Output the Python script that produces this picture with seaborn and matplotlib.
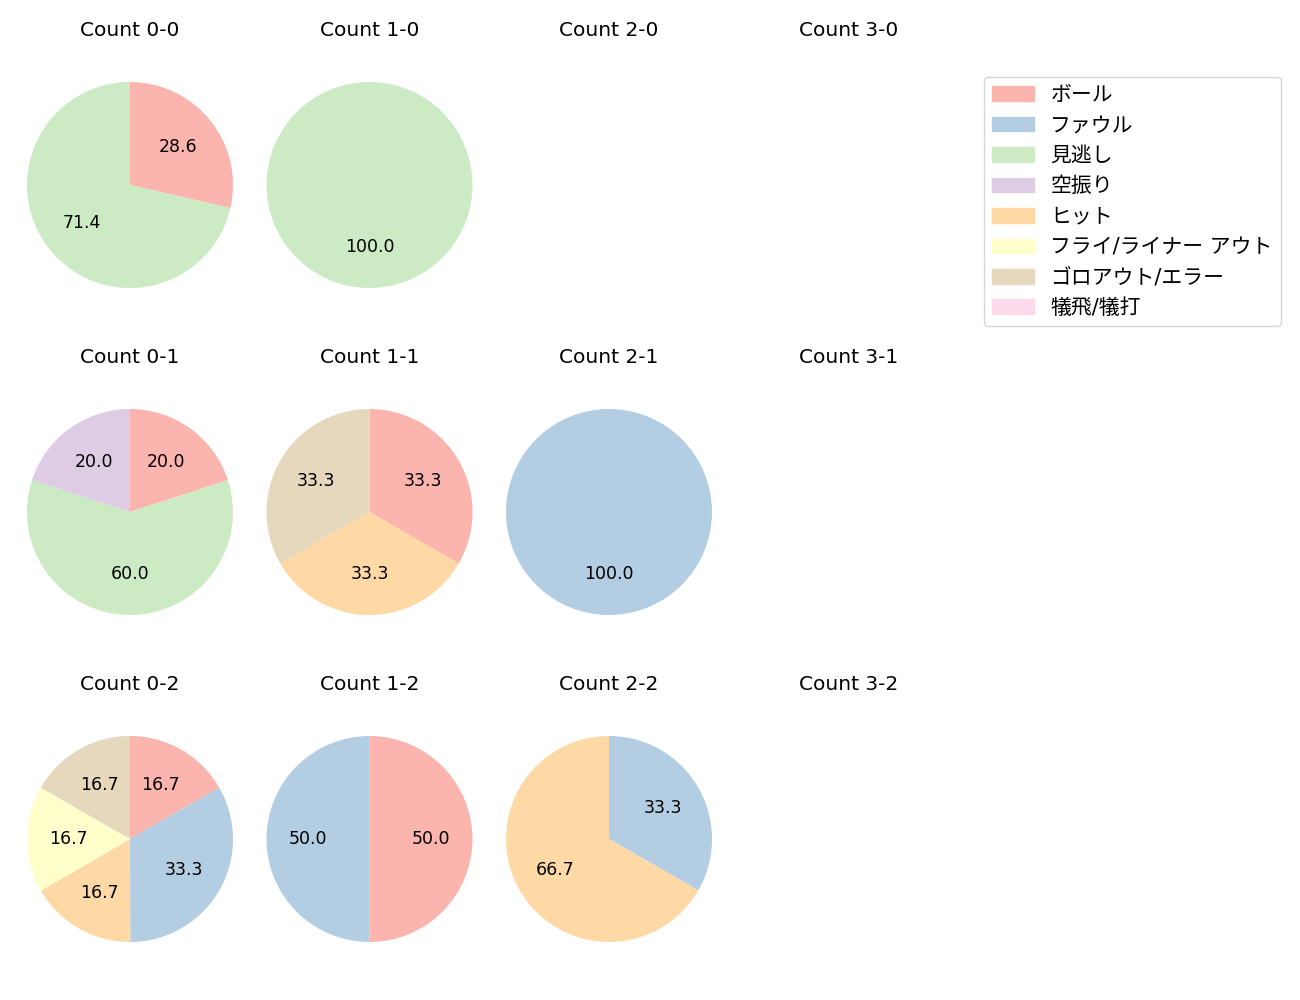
import numpy as np
import seaborn as sns
import matplotlib
matplotlib.use('Agg')
import matplotlib.pyplot as plt
from matplotlib.patches import Patch

# result categories (legend order)
categories = ['ボール', 'ファウル', '見逃し', '空振り', 'ヒット',
              'フライ/ライナー アウト', 'ゴロアウト/エラー', '犠飛/犠打']

# pitch counts in grid order: rows = strikes, columns = balls
balls = [0, 1, 2, 3]
strikes = [0, 1, 2]

# percentage per category for each count (None = no data)
count_0_0 = [28.6, 0, 71.4, 0, 0, 0, 0, 0]
count_1_0 = [0, 0, 100.0, 0, 0, 0, 0, 0]
count_2_0 = None
count_3_0 = None
count_0_1 = [20.0, 0, 60.0, 20.0, 0, 0, 0, 0]
count_1_1 = [33.3, 0, 0, 0, 33.3, 0, 33.3, 0]
count_2_1 = [0, 100.0, 0, 0, 0, 0, 0, 0]
count_3_1 = None
count_0_2 = [16.7, 33.3, 0, 0, 16.7, 16.7, 16.7, 0]
count_1_2 = [50.0, 50.0, 0, 0, 0, 0, 0, 0]
count_2_2 = [0, 33.3, 0, 0, 66.7, 0, 0, 0]
count_3_2 = None

grid = [[count_0_0, count_1_0, count_2_0, count_3_0],
        [count_0_1, count_1_1, count_2_1, count_3_1],
        [count_0_2, count_1_2, count_2_2, count_3_2]]

sns.set_theme(style='white')
plt.rcParams['font.family'] = ['DejaVu Sans', 'Noto Sans CJK JP']
plt.rcParams['text.color'] = 'black'
plt.rcParams['patch.force_edgecolor'] = False
colors = sns.color_palette('Pastel1', len(categories))

W, H = 1300, 1000
fig, axes = plt.subplots(3, 4, figsize=(13, 10), dpi=100)

ax_w, ax_h = 257.5, 281
for i, s in enumerate(strikes):
    for j, b in enumerate(balls):
        ax = axes[i][j]
        cx = 130 + 239.5 * j
        cy = 185 + 327 * i
        ax.set_position([(cx - ax_w / 2) / W, 1 - (cy + ax_h / 2) / H,
                         ax_w / W, ax_h / H])
        vals = grid[i][j]
        ax.set_title(f'Count {b}-{s}', fontsize=14.5)
        if vals is None:
            ax.axis('off')
            continue
        idx = [k for k, v in enumerate(vals) if v > 0]
        ax.pie([vals[k] for k in idx], colors=[colors[k] for k in idx],
               startangle=90, counterclock=False, autopct='%.1f',
               textprops={'fontsize': 12.5})
        ax.set_aspect('auto')
        ax.set_xlim(-1.25, 1.25)
        ax.set_ylim(-1.25 * ax_h / ax_w, 1.25 * ax_h / ax_w)

handles = [Patch(color=colors[k], label=c) for k, c in enumerate(categories)]
fig.legend(handles=handles, loc='upper right',
           bbox_to_anchor=(1281 / W, 1 - 76.7 / H), borderaxespad=0,
           fontsize=15, handlelength=2.0)

fig.savefig('out.png', dpi=100)
